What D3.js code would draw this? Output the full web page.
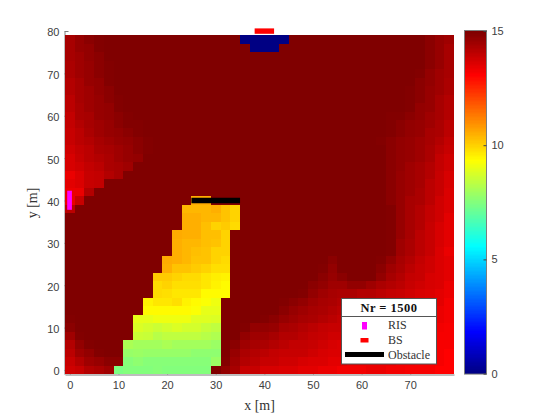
<!DOCTYPE html>
<html>
<head>
<meta charset="utf-8">
<script src="https://cdn.jsdelivr.net/npm/d3@7"></script>
<style>
html,body{margin:0;padding:0;background:#fff}
svg{display:block}
text{fill:#262626}
</style>
</head>
<body>
<div id="chart"></div>
<script>
const xCenters = [0,2,4,6,8,10,12,14,16,18,20,22,24,26,28,30,32,34,36,38,40,42,44,46,48,50,52,54,56,58,60,62,64,66,68,70,72,74,76,78];
const yCenters = [78,76,74,72,70,68,66,64,62,60,58,56,54,52,50,48,46,44,42,40,38,36,34,32,30,28,26,24,22,20,18,16,14,12,10,8,6,4,2,0];
const snrRows = [
[14.4,14.6,14.8,14.9,15,15,15,15,15,15, 15,15,15,15,15,15,15,15,0,0, 0,0,0,15,15,15,15,15,15,15, 15,15,15,15,15,15,15,14.8,14.6,14.5],
[14.4,14.6,14.7,14.9,15,15,15,15,15,15, 15,15,15,15,15,15,15,15,15,0, 0,0,15,15,15,15,15,15,15,15, 15,15,15,15,15,15,15,14.8,14.6,14.4],
[14.4,14.5,14.7,14.8,15,15,15,15,15,15, 15,15,15,15,15,15,15,15,15,15, 15,15,15,15,15,15,15,15,15,15, 15,15,15,15,15,15,15,14.8,14.6,14.4],
[14.3,14.5,14.6,14.8,14.9,15,15,15,15,15, 15,15,15,15,15,15,15,15,15,15, 15,15,15,15,15,15,15,15,15,15, 15,15,15,15,15,15,15,14.8,14.6,14.4],
[14.3,14.5,14.6,14.8,14.9,15,15,15,15,15, 15,15,15,15,15,15,15,15,15,15, 15,15,15,15,15,15,15,15,15,15, 15,15,15,15,15,15,14.9,14.7,14.5,14.4],
[14.2,14.4,14.6,14.7,14.9,15,15,15,15,15, 15,15,15,15,15,15,15,15,15,15, 15,15,15,15,15,15,15,15,15,15, 15,15,15,15,15,15,14.8,14.7,14.5,14.3],
[14.2,14.4,14.5,14.7,14.8,15,15,15,15,15, 15,15,15,15,15,15,15,15,15,15, 15,15,15,15,15,15,15,15,15,15, 15,15,15,15,15,14.9,14.8,14.6,14.5,14.3],
[14.1,14.4,14.5,14.6,14.8,14.9,15,15,15,15, 15,15,15,15,15,15,15,15,15,15, 15,15,15,15,15,15,15,15,15,15, 15,15,15,15,15,14.9,14.8,14.6,14.4,14.2],
[14.1,14.3,14.5,14.6,14.7,14.9,15,15,15,15, 15,15,15,15,15,15,15,15,15,15, 15,15,15,15,15,15,15,15,15,15, 15,15,15,15,15,14.9,14.7,14.6,14.4,14.2],
[14,14.3,14.4,14.6,14.7,14.8,14.9,15,15,15, 15,15,15,15,15,15,15,15,15,15, 15,15,15,15,15,15,15,15,15,15, 15,15,15,14.9,14.9,14.8,14.7,14.5,14.4,14.2],
[14,14.2,14.4,14.5,14.6,14.8,14.9,14.9,15,15, 15,15,15,15,15,15,15,15,15,15, 15,15,15,15,15,15,15,15,15,15, 15,15,15,14.9,14.8,14.7,14.6,14.5,14.3,14.1],
[13.9,14.1,14.3,14.5,14.6,14.7,14.8,14.9,15,15, 15,15,15,15,15,15,15,15,15,15, 15,15,15,15,15,15,15,15,15,15, 15,15,15,14.9,14.8,14.7,14.6,14.4,14.3,14.1],
[13.9,14.1,14.2,14.4,14.5,14.6,14.7,14.8,14.9,15, 15,15,15,15,15,15,15,15,15,15, 15,15,15,15,15,15,15,15,15,15, 15,15,14.9,14.8,14.7,14.6,14.5,14.4,14.2,14],
[13.8,14,14.1,14.3,14.4,14.5,14.6,14.8,14.9,15, 15,15,15,15,15,15,15,15,15,15, 15,15,15,15,15,15,15,15,15,15, 15,15,15,14.8,14.7,14.6,14.5,14.3,14.1,13.9],
[13.7,13.9,14.1,14.2,14.3,14.5,14.6,14.7,15,15, 15,15,15,15,15,15,15,15,15,15, 15,15,15,15,15,15,15,15,15,15, 15,15,15,14.8,14.7,14.6,14.5,14.3,14,13.8],
[13.7,13.8,14,14.1,14.3,14.4,14.5,15,15,15, 15,15,15,15,15,15,15,15,15,15, 15,15,15,15,15,15,15,15,15,15, 15,15,15,14.8,14.7,14.5,14.4,14.2,14,13.8],
[13.4,13.6,13.9,14,14.2,14.4,15,15,15,15, 15,15,15,15,15,15,15,15,15,15, 15,15,15,15,15,15,15,15,15,15, 15,15,15,14.8,14.6,14.5,14.4,14.2,13.9,13.7],
[13.5,13.6,13.9,14,15,15,15,15,15,15, 15,15,15,15,15,15,15,15,15,15, 15,15,15,15,15,15,15,15,15,15, 15,15,15,14.8,14.6,14.5,14.4,14.1,13.9,13.7],
[13.4,13.4,14.2,15,15,15,15,15,15,15, 15,15,15,15,15,15,15,15,15,15, 15,15,15,15,15,15,15,15,15,15, 15,15,15,14.8,14.6,14.5,14.3,14.1,13.9,13.6],
[13.4,13.9,15,15,15,15,15,15,15,15, 15,15,15,10.6,10.6,15,15,15,15,15, 15,15,15,15,15,15,15,15,15,15, 15,15,15,14.8,14.6,14.4,14.3,14.1,13.8,13.6],
[14.1,15,15,15,15,15,15,15,15,15, 15,15,10.4,10.4,10.4,10.5,10.2,10,15,15, 15,15,15,15,15,15,15,15,15,15, 15,15,15,14.9,14.6,14.4,14.2,14,13.8,13.6],
[15,15,15,15,15,15,15,15,15,15, 15,15,10.5,10.5,10.4,10.4,10.2,10,15,15, 15,15,15,15,15,15,15,15,15,15, 15,15,15,14.9,14.6,14.4,14.2,14,13.8,13.5],
[15,15,15,15,15,15,15,15,15,15, 15,15,10.5,10.5,10.3,10,10.1,9.9,15,15, 15,15,15,15,15,15,15,15,15,15, 15,15,15,14.9,14.6,14.4,14.2,13.9,13.7,13.5],
[15,15,15,15,15,15,15,15,15,15, 15,10.6,10.5,10.5,10.3,10.3,10,15,15,15, 15,15,15,15,15,15,15,15,15,15, 15,15,15,14.9,14.6,14.4,14.1,13.9,13.7,13.5],
[15,15,15,15,15,15,15,15,15,15, 15,10.5,10.4,10.4,10.3,10.2,10,15,15,15, 15,15,15,15,15,15,15,15,15,15, 15,15,15,14.9,14.5,14.3,14.1,13.9,13.7,13.5],
[15,15,15,15,15,15,15,15,15,15, 15,10.5,10.4,10.3,10.2,10,10,15,15,15, 15,15,15,15,15,15,15,15,15,15, 15,15,15,14.9,14.5,14.3,14.1,13.9,13.6,13.4],
[15,15,15,15,15,15,15,15,15,15, 10.6,10.5,10.4,10.2,10.2,10,9.9,15,15,15, 15,15,15,15,15,15,15,14.8,15,15, 15,15,14.9,14.7,14.4,14.2,14,13.8,13.6,13.5],
[15,15,15,15,15,15,15,15,15,15, 10.5,10.2,10.2,10.1,10,9.8,9.8,15,15,15, 15,15,15,15,15,15,14.9,14.7,15,15, 15,15,14.8,14.5,14.3,14.1,13.9,13.8,13.6,13.5],
[15,15,15,15,15,15,15,15,15,10.1, 10.1,10,9.9,9.9,9.7,9.6,9.5,15,15,15, 15,15,15,15,15,15,14.8,14.6,14.8,15, 15,15,14.7,14.4,14.2,14,13.9,13.7,13.6,13.5],
[15,15,15,15,15,15,15,15,15,9.9, 10,9.8,9.8,9.8,9.7,9.5,9.4,15,15,15, 15,15,15,15,15,14.8,14.7,14.5,14.5,14.7, 14.7,14.5,14.3,14.2,14.1,13.9,13.8,13.7,13.6,13.4],
[15,15,15,15,15,15,15,15,15,9.9, 9.8,9.7,9.7,9.7,9.4,9.4,9.4,15,15,15, 15,15,15,15,14.9,14.7,14.5,14.4,14.3,14.3, 14.2,14.2,14.1,14,13.9,13.8,13.7,13.6,13.5,13.4],
[15,15,15,15,15,15,15,15,9.5,9.7, 9.7,9.8,9.5,9.4,9.3,9.1,15,15,15,15, 15,15,14.9,14.8,14.7,14.5,14.4,14.3,14.2,14.1, 14.1,14,14,13.9,13.8,13.7,13.6,13.6,13.5,13.3],
[15,15,15,15,15,15,15,15,9.4,9.4, 9.4,9.4,9.4,9.3,9,9,15,15,15,15, 15,15,14.8,14.6,14.5,14.4,14.3,14.2,14.1,14, 14,13.9,13.9,13.8,13.7,13.6,13.6,13.5,13.4,13.3],
[14.9,15,15,15,15,15,15,9,9,9.1, 9.1,9.1,9.1,8.9,8.9,8.8,15,15,15,15, 14.9,14.8,14.6,14.5,14.4,14.3,14.2,14.1,14,13.9, 13.9,13.8,13.8,13.7,13.7,13.6,13.5,13.4,13.4,13.3],
[14.8,15,15,15,15,15,15,8.8,8.7,8.6, 8.7,8.8,8.7,8.7,8.5,8.4,15,15,14.9,14.7, 14.7,14.6,14.4,14.3,14.2,14.1,14,13.9,13.9,13.8, 13.8,13.7,13.7,13.6,13.6,13.5,13.4,13.4,13.3,13.2],
[14.5,14.9,15,15,15,15,15,8.6,8.5,8.3, 8.4,8.4,8.4,8.4,8.3,8.2,15,15,14.7,14.5, 14.5,14.4,14.2,14.2,14.1,14,13.9,13.8,13.8,13.7, 13.7,13.6,13.6,13.6,13.5,13.4,13.4,13.3,13.2,13.2],
[14.2,14.7,14.9,15,15,15,8.1,8,8,8, 8.1,8,8,8,8,7.9,15,14.8,14.5,14.4, 14.3,14.2,14.1,14,14,13.9,13.8,13.7,13.6,13.6, 13.6,13.6,13.5,13.5,13.4,13.4,13.3,13.3,13.2,13.2],
[14.1,14.5,14.7,14.9,15,15,7.8,7.9,7.8,7.8, 7.8,7.8,7.8,7.7,7.7,7.7,15,14.6,14.3,14.2, 14.1,14,13.9,13.9,13.9,13.8,13.7,13.6,13.6,13.5, 13.5,13.5,13.5,13.4,13.4,13.3,13.3,13.2,13.2,13.1],
[13.9,14.2,14.5,14.6,14.8,14.8,7.6,7.7,7.6,7.6, 7.6,7.6,7.6,7.6,7.6,7.9,14.9,14.5,14.2,14.1, 13.9,13.9,13.8,13.8,13.7,13.6,13.6,13.5,13.5,13.4, 13.4,13.4,13.4,13.4,13.3,13.3,13.2,13.2,13.2,13.1],
[13.8,13.9,14.2,14.3,14.5,7.4,7.5,7.5,7.5,7.6, 7.5,7.5,7.5,7.5,7.5,15,14.7,14.4,13.9,13.9, 13.7,13.7,13.6,13.6,13.5,13.5,13.4,13.4,13.3,13.3, 13.3,13.4,13.4,13.3,13.3,13.2,13.2,13.2,13.1,13.1]
];
const xTicks = [0,10,20,30,40,50,60,70];
const yTicks = [0,10,20,30,40,50,60,70,80];
const cTicks = [0,5,10,15];
const risSpan = {x:[-0.55,0.42], y:[37.8,42.3]};
const bsPoint = {x:[38,42], y:80};
const obstacleSpan = {x:[25,35], y:40};
const legendTitle = "Nr = 1500";
const legendItems = ["RIS","BS","Obstacle"];

const W=560,H=420;
const plot={l:65,r:454,t:31,b:374.2};
const bar={l:465,r:486,t:31,b:373.6};
const grey="#7d7d7d";

// MATLAB jet colormap
function jetColors(m){
  const n=Math.ceil(m/4), u=[];
  for(let i=1;i<=n;i++)u.push(i/n);
  for(let i=1;i<n;i++)u.push(1);
  for(let i=n;i>=1;i--)u.push(i/n);
  const start=Math.ceil(n/2)-(m%4===1?1:0);
  const ch=(off)=>{const a=new Array(m).fill(0);
    u.forEach((v,i)=>{const p=start+i+1+off;if(p>=1&&p<=m)a[p-1]=v;});return a;};
  const R=ch(n),G=ch(0),B=ch(-n);
  return d3.range(m).map(i=>d3.rgb(R[i]*255,G[i]*255,B[i]*255).formatHex());
}
const jet=jetColors(256);
const color=d3.scaleQuantize().domain([0,15]).range(jet);

const x=d3.scaleLinear().domain([-1,79]).range([plot.l,plot.r]);
const y=d3.scaleLinear().domain([-1,80]).range([plot.b,plot.t]);
const c=d3.scaleLinear().domain([0,15]).range([bar.b,bar.t]);

const svg=d3.select("#chart").append("svg").attr("width",W).attr("height",H)
  .style("font-family","'Liberation Sans',Arial,sans-serif");

// axes sit beneath the image, as in the reference
const styleAxis=g=>{g.selectAll("path,line").attr("stroke",grey).attr("stroke-width",1);
  g.selectAll("text").style("font-size","11px").attr("fill","#404040").style("fill","#404040");};
svg.append("g").attr("transform",`translate(0,${plot.b+0.3})`)
  .call(d3.axisBottom(x).tickValues(xTicks).tickFormat(d3.format("d")).tickSizeInner(-4).tickSizeOuter(0).tickPadding(7))
  .call(g=>g.select(".domain").attr("fill","none")).call(styleAxis);
svg.append("g").attr("transform",`translate(${plot.l-0.5},0)`)
  .call(d3.axisLeft(y).tickValues(yTicks).tickFormat(d3.format("d")).tickSizeInner(-4).tickSizeOuter(0).tickPadding(5))
  .call(g=>g.select(".domain").attr("fill","none")).call(styleAxis)
  .call(g=>g.selectAll("text").attr("dy","0.45em"));

// heat cells
const cells=svg.append("g").attr("shape-rendering","crispEdges");
snrRows.forEach((row,ri)=>{
  cells.selectAll(null).data(row).enter().append("rect")
    .attr("x",(d,i)=>x(xCenters[i]-1))
    .attr("width",(d,i)=>x(xCenters[i]+1)-x(xCenters[i]-1))
    .attr("y",y(yCenters[ri]+1))
    .attr("height",y(yCenters[ri]-1)-y(yCenters[ri]+1))
    .attr("fill",d=>color(d));
});

// markers
svg.append("rect").attr("x",x(risSpan.x[0])).attr("width",x(risSpan.x[1])-x(risSpan.x[0]))
  .attr("y",y(risSpan.y[1])).attr("height",y(risSpan.y[0])-y(risSpan.y[1])).attr("fill","#ff00ff");
svg.append("rect").attr("x",x(bsPoint.x[0])).attr("width",x(bsPoint.x[1])-x(bsPoint.x[0]))
  .attr("y",y(bsPoint.y)-2.6).attr("height",5.4).attr("fill","#ff0000");
svg.append("line").attr("x1",x(obstacleSpan.x[0])).attr("x2",x(obstacleSpan.x[1]))
  .attr("y1",y(obstacleSpan.y)).attr("y2",y(obstacleSpan.y)).attr("stroke","#000").attr("stroke-width",5.6);

// axis labels
const serif="'Liberation Serif','DejaVu Serif',serif";
svg.append("text").attr("x",259.5).attr("y",410).attr("text-anchor","middle")
  .style("font-family",serif).style("font-size","14px").style("fill","#333").text("x [m]");
svg.append("text").attr("transform","translate(37,203) rotate(-90)").attr("text-anchor","middle")
  .style("font-family",serif).style("font-size","14px").style("fill","#333").text("y [m]");

// colorbar
const bars=svg.append("g").attr("shape-rendering","crispEdges");
const lv=color.thresholds();
const edges=[0,...lv,15];
bars.selectAll("rect").data(jet).enter().append("rect")
  .attr("x",bar.l).attr("width",bar.r-bar.l)
  .attr("y",(d,i)=>c(edges[i+1])).attr("height",(d,i)=>c(edges[i])-c(edges[i+1])+0.5)
  .attr("fill",d=>d);
svg.append("rect").attr("x",bar.l-0.5).attr("y",bar.t-0.5).attr("width",bar.r-bar.l+1).attr("height",bar.b-bar.t+1)
  .attr("fill","none").attr("stroke",grey).attr("stroke-width",1);
svg.append("g").attr("transform",`translate(${bar.r+0.5},0)`)
  .call(d3.axisRight(c).tickValues(cTicks).tickFormat(d3.format("d")).tickSizeInner(-3).tickSizeOuter(0).tickPadding(5))
  .call(g=>g.select(".domain").remove()).call(styleAxis)
  .call(g=>g.selectAll("line").attr("stroke","#404040"));

// legend
const lg=svg.append("g");
lg.append("rect").attr("x",341.5).attr("y",298.5).attr("width",95).attr("height",65.5)
  .attr("fill","#fff").attr("stroke","#555").attr("stroke-width",1);
lg.append("line").attr("x1",341.5).attr("x2",436.5).attr("y1",316.5).attr("y2",316.5).attr("stroke","#555");
lg.append("text").attr("x",389).attr("y",311.5).attr("text-anchor","middle")
  .style("font-family",serif).style("font-weight","700").style("font-size","12.5px").style("letter-spacing","0.5px").style("fill","#111").text(legendTitle);
lg.append("rect").attr("x",362).attr("y",322).attr("width",5).attr("height",7.5).attr("fill","#ff00ff");
lg.append("rect").attr("x",360.5).attr("y",338).attr("width",8).attr("height",4.5).attr("fill","#ff0000");
lg.append("line").attr("x1",345).attr("x2",384).attr("y1",354.5).attr("y2",354.5).attr("stroke","#000").attr("stroke-width",5);
lg.selectAll("text.item").data(legendItems).enter().append("text").attr("class","item")
  .attr("x",388).attr("y",(d,i)=>[328.5,343.5,358.5][i])
  .style("font-family",serif).style("font-size","12px").style("fill","#333").text(d=>d);
</script>
</body>
</html>
